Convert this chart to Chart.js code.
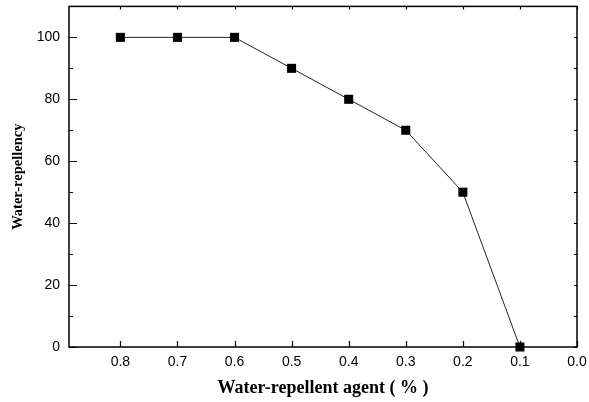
<!DOCTYPE html>
<html>
<head>
<meta charset="utf-8">
<title>Water-repellency</title>
<script src="https://cdn.jsdelivr.net/npm/chart.js"></script>
<style>
  html, body { margin: 0; padding: 0; background: #fff; }
  #wrap { width: 589px; height: 402px; }
</style>
</head>
<body>
<div id="wrap"><canvas id="chart" width="589" height="402"></canvas></div>
<script>
// agent concentration (%) and measured water-repellency
const agent = [0.8, 0.7, 0.6, 0.5, 0.4, 0.3, 0.2, 0.1];
const repellency = [100, 100, 100, 90, 80, 70, 50, 0];
const xTicks = [0.8, 0.7, 0.6, 0.5, 0.4, 0.3, 0.2, 0.1, 0.0];
const yTicks = [0, 20, 40, 60, 80, 100];
const yMinor = [10, 30, 50, 70, 90, 110];

// frame + inward ticks, positions from the chart's own scales
const frameTicks = {
  id: 'frameTicks',
  beforeDatasetsDraw(chart) {
    const ctx = chart.ctx, a = chart.chartArea;
    const x = chart.scales.x, y = chart.scales.y;
    ctx.save();
    ctx.strokeStyle = '#000';
    ctx.lineWidth = 1.5;
    ctx.strokeRect(a.left, a.top, a.right - a.left, a.bottom - a.top);
    ctx.lineWidth = 1.2;
    ctx.beginPath();
    xTicks.forEach(v => {
      const px = Math.round(x.getPixelForValue(v)) + 0.5;
      ctx.moveTo(px, a.bottom); ctx.lineTo(px, a.bottom - 6);
      ctx.moveTo(px, a.top); ctx.lineTo(px, a.top + 3);
    });
    yTicks.forEach(v => {
      const py = Math.round(y.getPixelForValue(v)) + 0.5;
      ctx.moveTo(a.left, py); ctx.lineTo(a.left + 8, py);
      ctx.moveTo(a.right, py); ctx.lineTo(a.right - 3, py);
    });
    yMinor.forEach(v => {
      const py = Math.round(y.getPixelForValue(v)) + 0.5;
      ctx.moveTo(a.left, py); ctx.lineTo(a.left + 4, py);
      ctx.moveTo(a.right, py); ctx.lineTo(a.right - 3, py);
    });
    ctx.stroke();
    ctx.restore();
  }
};

new Chart(document.getElementById('chart'), {
  type: 'scatter',
  data: {
    datasets: [{
      data: agent.map((a, i) => ({ x: a, y: repellency[i] })),
      showLine: true,
      clip: false,
      borderColor: '#222',
      borderWidth: 1,
      backgroundColor: '#000',
      pointStyle: 'rect',
      pointRadius: 6.4,
      pointBorderWidth: 0,
      pointHoverRadius: 6.4
    }]
  },
  options: {
    responsive: false,
    animation: false,
    layout: { padding: { top: 6, right: 12, left: 0, bottom: 0 } },
    plugins: { legend: { display: false }, tooltip: { enabled: false } },
    scales: {
      x: {
        type: 'linear',
        reverse: true,
        min: 0,
        max: 0.89,
        afterBuildTicks: s => { s.ticks = xTicks.map(v => ({ value: v })); },
        afterFit: s => { s.height = 55; s.paddingLeft = 0; s.paddingRight = 0; },
        grid: { display: false, drawTicks: false },
        border: { display: false },
        ticks: {
          padding: 7,
          color: '#000',
          font: { family: 'Liberation Sans, Arial', size: 14 },
          callback: v => v.toFixed(1),
          maxRotation: 0
        },
        title: {
          display: true,
          text: 'Water-repellent agent ( % )',
          color: '#000',
          font: { family: 'Liberation Serif, Times New Roman', size: 18, weight: 'bold' },
          padding: { top: 0, bottom: 3 }
        }
      },
      y: {
        min: 0,
        max: 110,
        afterBuildTicks: s => { s.ticks = yTicks.map(v => ({ value: v })); },
        afterFit: s => { s.width = 69; s.paddingTop = 0; s.paddingBottom = 0; },
        grid: { display: false, drawTicks: false },
        border: { display: false },
        ticks: {
          padding: 9,
          color: '#000',
          font: { family: 'Liberation Sans, Arial', size: 14 }
        },
        title: {
          display: true,
          text: 'Water-repellency',
          color: '#000',
          font: { family: 'Liberation Serif, Times New Roman', size: 14.5, weight: 'bold' },
          padding: { top: 10, bottom: 0 }
        }
      }
    }
  },
  plugins: [frameTicks]
});
</script>
</body>
</html>
